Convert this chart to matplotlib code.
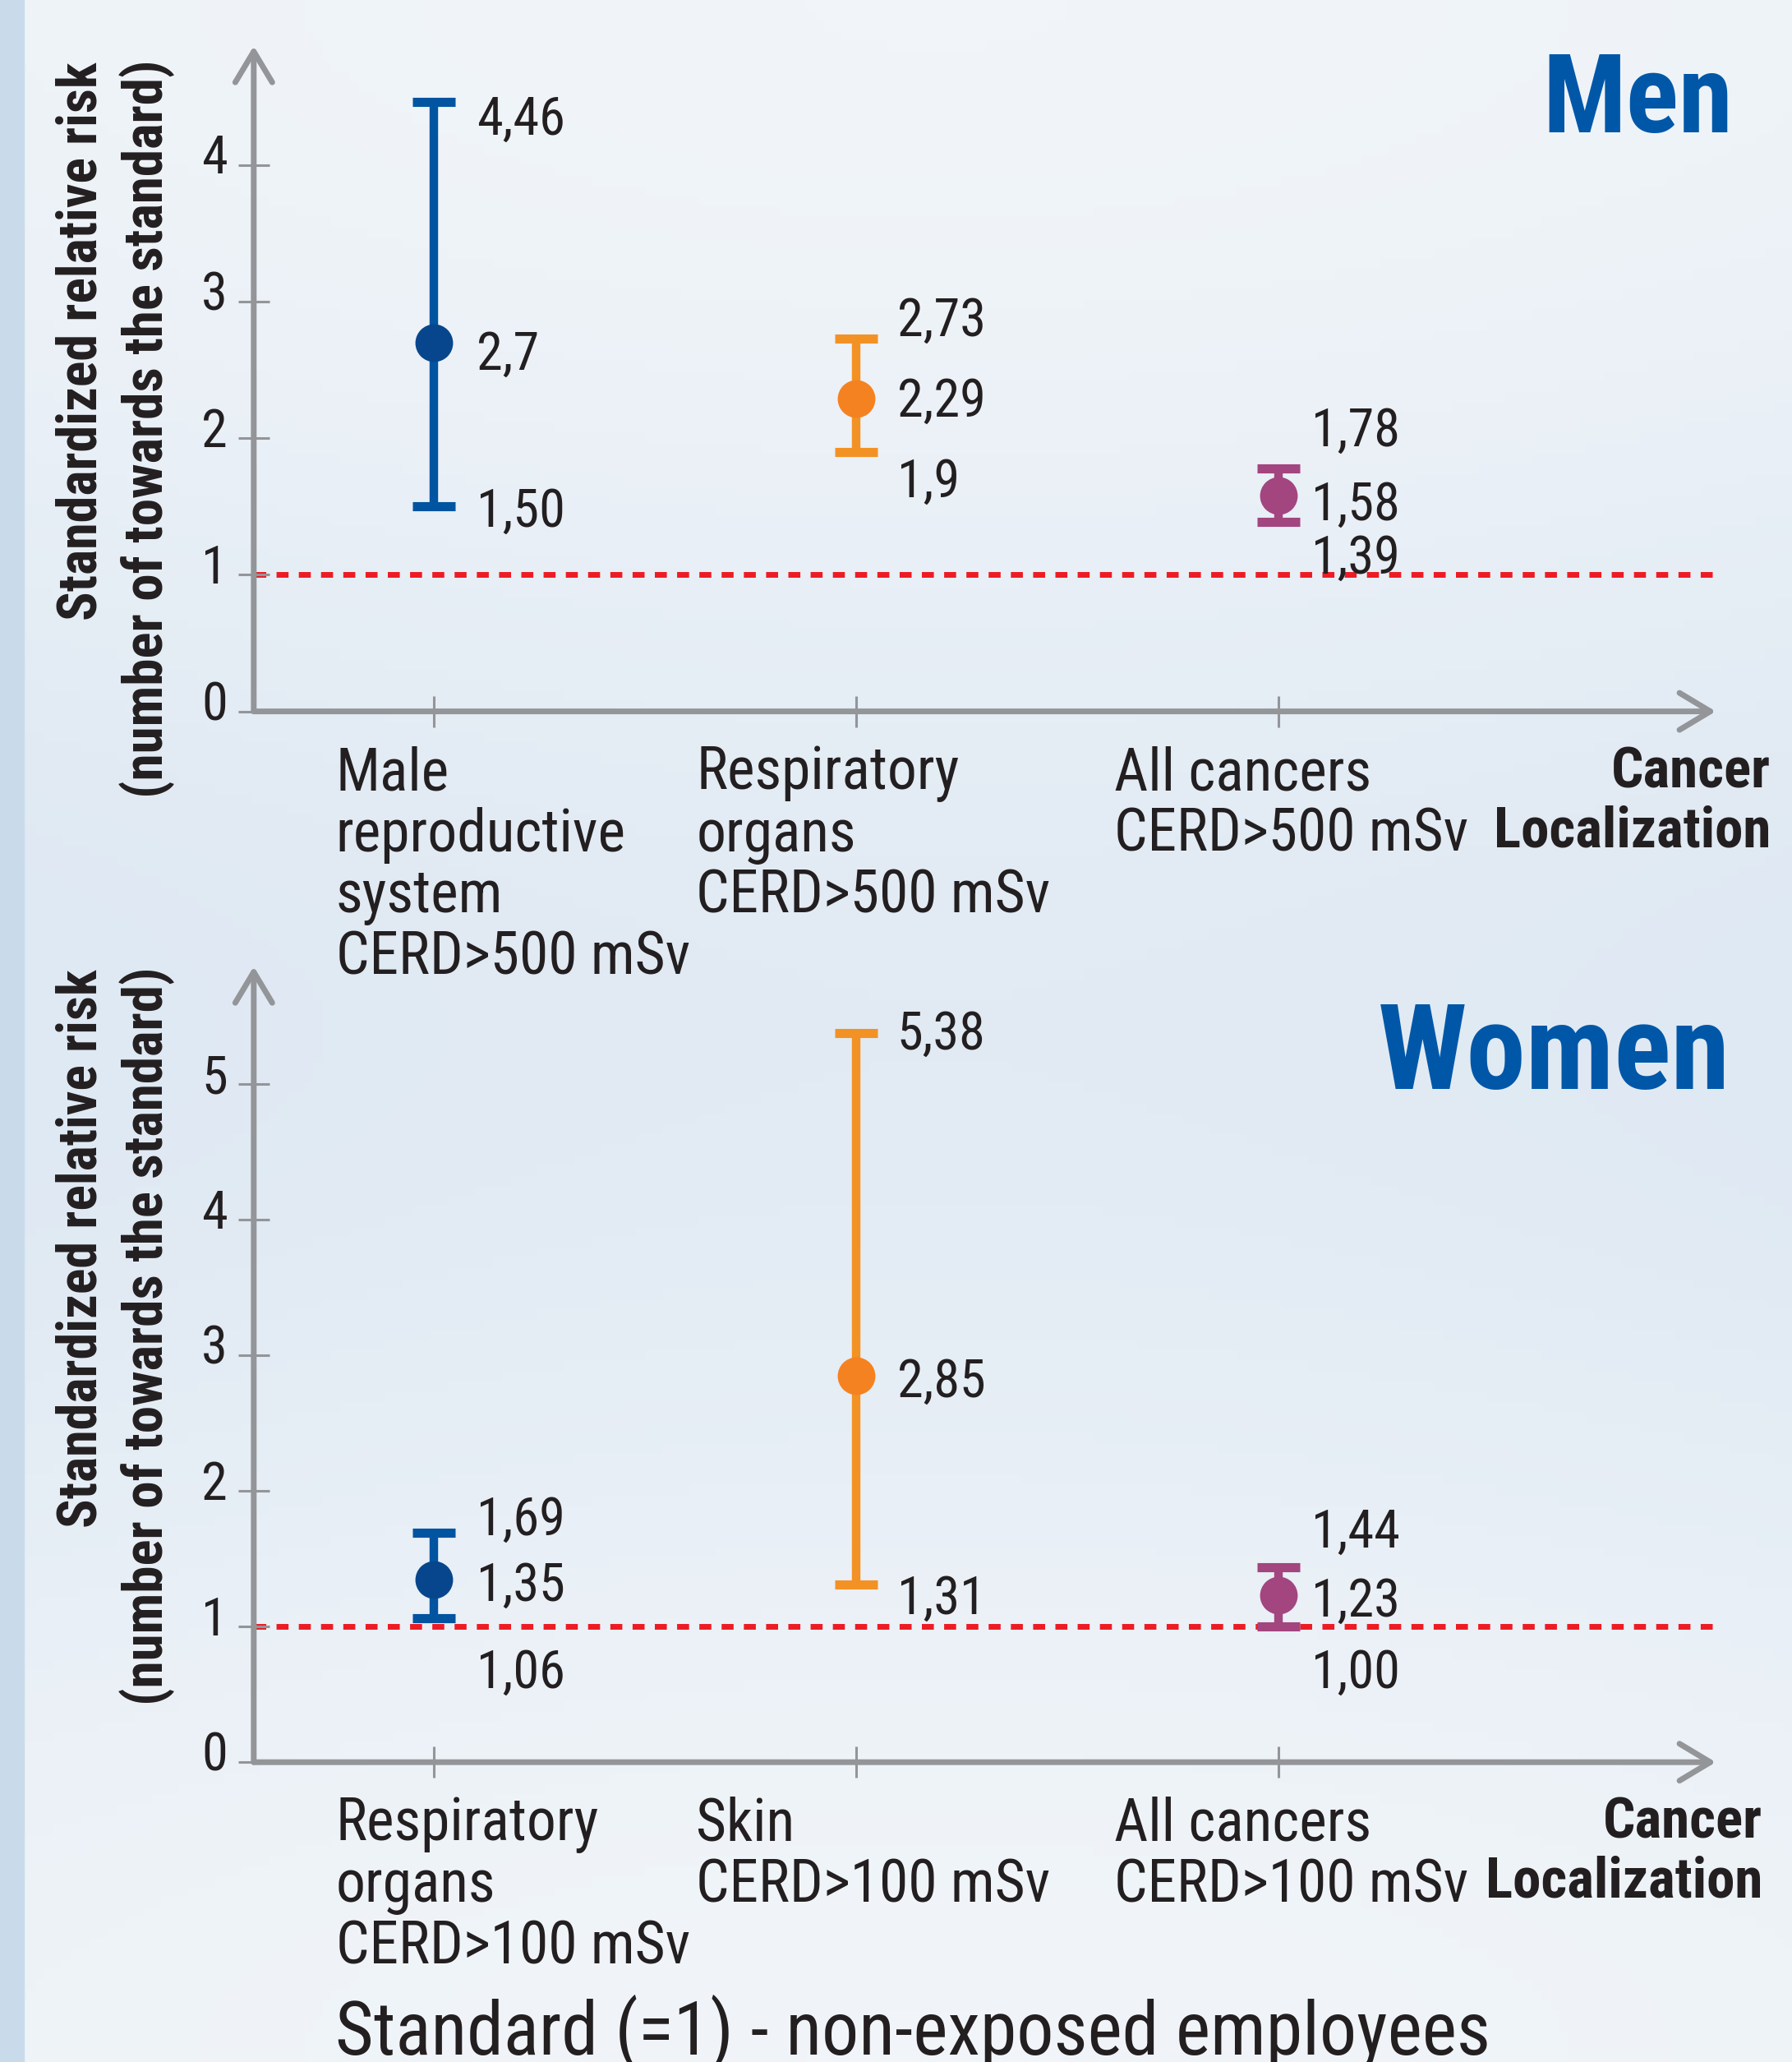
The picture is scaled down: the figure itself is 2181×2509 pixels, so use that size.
import numpy as np
import matplotlib
matplotlib.use("Agg")
import matplotlib.pyplot as plt
from matplotlib import font_manager
from matplotlib.patches import Rectangle
from matplotlib.transforms import ScaledTranslation

# fonts: a condensed sans if there is one, otherwise Liberation Sans sized to the widths
avail = {f.name for f in font_manager.fontManager.ttflist}
FONT = "Liberation Sans"
for cand in ["Liberation Sans Narrow", "Arial Narrow", "Roboto Condensed",
             "Noto Sans Condensed", "DejaVu Sans Condensed"]:
    if cand in avail:
        FONT = cand
        break
plt.rcParams["font.family"] = [FONT, "DejaVu Sans"]

# ---- data ----
men_cats = ["Male\nreproductive\nsystem\nCERD>500 mSv",
            "Respiratory\norgans\nCERD>500 mSv",
            "All cancers\nCERD>500 mSv"]
men_mid = [2.70, 2.29, 1.58]
men_lo = [1.50, 1.90, 1.39]
men_hi = [4.46, 2.73, 1.78]
men_labels = [["4,46", "2,7", "1,50"], ["2,73", "2,29", "1,9"], ["1,78", "1,58", "1,39"]]

women_cats = ["Respiratory\norgans\nCERD>100 mSv",
              "Skin\nCERD>100 mSv",
              "All cancers\nCERD>100 mSv"]
women_mid = [1.35, 2.85, 1.23]
women_lo = [1.06, 1.31, 1.00]
women_hi = [1.69, 5.38, 1.44]
women_labels = [["1,69", "1,35", "1,06"], ["5,38", "2,85", "1,31"], ["1,44", "1,23", "1,00"]]

# ---- style ----
GRAY = "#939598"
TXT = "#231f20"
RED = "#ed1c24"
TITLE_BLUE = "#0057a8"
bar_colors = ["#0054a0", "#f39224", "#a3457f"]
dot_colors = ["#07468c", "#f58220", "#a3457f"]
label_dx = [37, 36, 29]
men_label_dy = [[-11, -6, 0], [20, 2, -22], [37, -4, -28]]
women_label_dy = [[16, -1, -43], [3, -1, -8], [35, -1, -36]]
cat_dx = [-86, -140, -144]

DPI = 100
fig = plt.figure(figsize=(21.81, 25.09), dpi=DPI)
fig.patch.set_facecolor("#e6eef6")
renderer = fig.canvas.get_renderer()


def fit_size(text, target_px, base=50, **kw):
    # font size that gives the text the width it has in the picture
    t = fig.text(0, 0, text, fontsize=base, **kw)
    w = t.get_window_extent(renderer).width
    t.remove()
    return base * target_px / w


FS_VAL = fit_size("1,78", 108)
FS_TICK = FS_VAL
FS_CAT = fit_size("CERD>500 mSv", 432)
FS_LOC = fit_size("Localization", 338, fontweight="bold")
FS_MEN = fit_size("Men", 232, fontweight="bold")
FS_WOMEN = fit_size("Women", 429, fontweight="bold")
FS_CAP = fit_size("Standard (=1) - non-exposed employees", 1408)
FS_YL1 = fit_size("Standardized relative risk", 680, fontweight="bold")
FS_YL2 = fit_size("(number of towards the standard)", 899, fontweight="bold")
# line step of 73 px between category lines
LS_CAT = 73 / (0.93 * FS_CAT * DPI / 72)
LS_LOC = 73 / (0.93 * FS_LOC * DPI / 72)

# soft background
bg = fig.add_axes([0, 0, 1, 1], zorder=-10)
yy = np.linspace(0, 1, 200)[:, None]
xx = np.linspace(0, 1, 200)[None, :]
shade = 0.5 + 0.25 * np.cos(yy * 2 * np.pi) + 0.1 * np.sin(xx * 3)
bg.imshow(shade, cmap=matplotlib.colors.LinearSegmentedColormap.from_list(
    "bg", ["#dfe9f3", "#f1f5f9"]), aspect="auto", extent=(0, 1, 0, 1))
bg.add_patch(Rectangle((0, 0), 29 / 2181, 1, color="#c9dbeb"))
bg.set_xlim(0, 1)
bg.set_ylim(0, 1)
bg.axis("off")


def panel(rect, ytop, yticks, cats, lo, mid, hi, labels, label_dy, loc_dx):
    ax = fig.add_axes(rect)
    ax.patch.set_alpha(0)
    x = np.arange(1, len(cats) + 1)
    ax.set_xlim(0.573, 4.037)
    ax.set_ylim(0, ytop)
    for s in ax.spines.values():
        s.set_visible(False)

    # axes drawn as arrows
    arrow = dict(arrowstyle="->,head_length=0.45,head_width=0.27", lw=5, color=GRAY,
                 shrinkA=0, shrinkB=0, mutation_scale=60)
    ax.annotate("", xy=(0, 1), xytext=(0, 0), xycoords="axes fraction", arrowprops=arrow)
    ax.annotate("", xy=(1, 0), xytext=(0, 0), xycoords="axes fraction", arrowprops=arrow)

    ax.axhline(1, color=RED, lw=5, ls=(0, (2.1, 1.8)), zorder=1)

    ax.set_xticks(x)
    ax.set_xticklabels([])
    ax.set_yticks(yticks)
    ax.set_yticklabels([str(t) for t in yticks])
    ax.tick_params(direction="inout", length=28, width=2.2, color=GRAY,
                   labelsize=FS_TICK, labelcolor=TXT, pad=9)
    for lab in ax.get_yticklabels():
        lab.set_transform(lab.get_transform() + ScaledTranslation(0, 10 / 72, fig.dpi_scale_trans))

    for i in range(len(cats)):
        ax.errorbar(x[i], mid[i], yerr=[[mid[i] - lo[i]], [hi[i] - mid[i]]], fmt="o",
                    color=dot_colors[i], ecolor=bar_colors[i], elinewidth=7.5,
                    capsize=19, capthick=8, markersize=32, zorder=3)
        for val, txt, dy in zip([hi[i], mid[i], lo[i]], labels[i], label_dy[i]):
            ax.annotate(txt, xy=(x[i], val), xytext=(label_dx[i], dy),
                        textcoords="offset points", ha="left", va="center_baseline",
                        fontsize=FS_VAL, color=TXT, zorder=4)
        ax.annotate(cats[i], xy=(x[i], 0), xycoords=("data", "axes fraction"),
                    xytext=(cat_dx[i], -30), textcoords="offset points",
                    ha="left", va="top", fontsize=FS_CAT, linespacing=LS_CAT, color=TXT)

    ax.annotate("Cancer\nLocalization", xy=(1, 0), xycoords="axes fraction",
                xytext=(loc_dx, -30), textcoords="offset points", ha="right", va="top",
                fontsize=FS_LOC, fontweight="bold", linespacing=LS_LOC, color=TXT,
                multialignment="right")
    return ax


ax1 = panel([0.1416, 0.6550, 0.8159, 0.3227], 4.87, [0, 1, 2, 3, 4],
            men_cats, men_lo, men_mid, men_hi, men_labels, men_label_dy, 48)
ax2 = panel([0.1416, 0.1454, 0.8159, 0.3859], 5.87, [0, 1, 2, 3, 4, 5],
            women_cats, women_lo, women_mid, women_hi, women_labels, women_label_dy, 41)

ylab1 = "Standardized relative risk"
ylab2 = "(number of towards the standard)"
for top in (0.970, 0.530):
    fig.text(0.0454, top, ylab1, rotation=90, ha="center", va="top",
             fontsize=FS_YL1, fontweight="bold", color=TXT)
    fig.text(0.0821, top + 0.001, ylab2, rotation=90, ha="center", va="top",
             fontsize=FS_YL2, fontweight="bold", color=TXT)

fig.text(0.967, 0.936, "Men", ha="right", va="baseline", fontsize=FS_MEN,
         fontweight="bold", color=TITLE_BLUE)
fig.text(0.9655, 0.472, "Women", ha="right", va="baseline", fontsize=FS_WOMEN,
         fontweight="bold", color=TITLE_BLUE)

fig.text(0.187, 0.004, "Standard (=1) - non-exposed employees", ha="left",
         va="baseline", fontsize=FS_CAP, color=TXT)

fig.savefig("out.png", dpi=DPI, facecolor=fig.get_facecolor())
